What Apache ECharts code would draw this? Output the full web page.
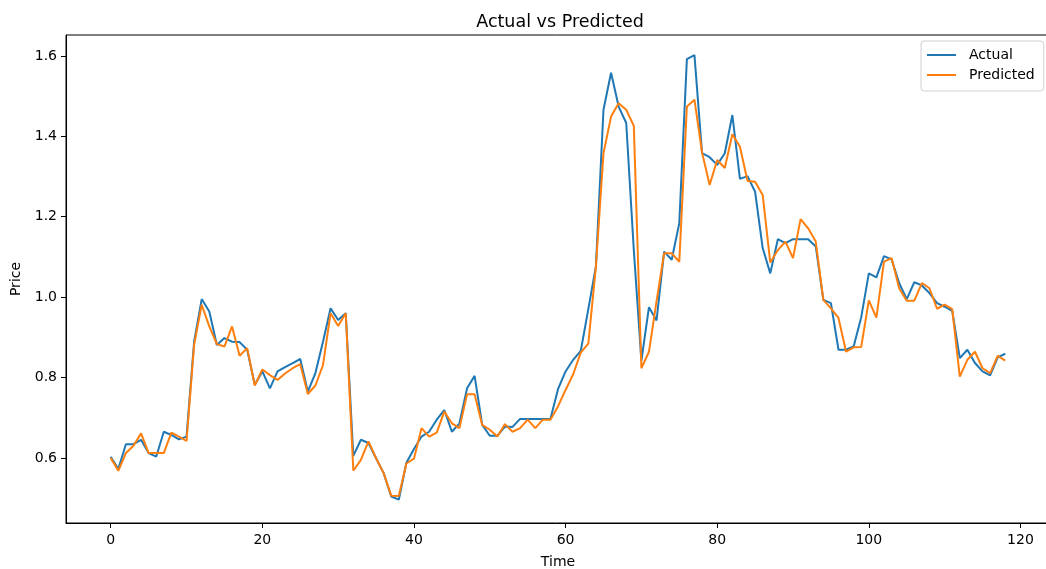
<!DOCTYPE html>
<html>
<head>
<meta charset="utf-8">
<title>Actual vs Predicted</title>
<script src="https://cdn.jsdelivr.net/npm/echarts@6/dist/echarts.min.js"></script>
<style>
  html, body { margin: 0; padding: 0; background: #fff; }
  #chart { width: 1046px; height: 569px; }
</style>
</head>
<body>
<div id="chart"></div>
<script>
// Observed price per time step
const actual = [
  0.603, 0.572, 0.634, 0.634, 0.645, 0.612, 0.603, 0.665, 0.657, 0.646,
  0.653, 0.889, 0.995, 0.964, 0.881, 0.898, 0.889, 0.888, 0.869, 0.782,
  0.815, 0.773, 0.815, 0.826, 0.836, 0.846, 0.765, 0.811, 0.889, 0.972,
  0.943, 0.960, 0.605, 0.645, 0.637, 0.599, 0.562, 0.504, 0.496, 0.588,
  0.622, 0.653, 0.665, 0.695, 0.719, 0.665, 0.686, 0.773, 0.804, 0.682,
  0.655, 0.655, 0.678, 0.677, 0.697, 0.697, 0.697, 0.697, 0.697, 0.771,
  0.815, 0.844, 0.866, 0.970, 1.076, 1.466, 1.558, 1.474, 1.433, 1.117,
  0.842, 0.975, 0.942, 1.113, 1.093, 1.184, 1.592, 1.602, 1.358, 1.348,
  1.329, 1.358, 1.453, 1.294, 1.301, 1.262, 1.122, 1.059, 1.144, 1.134,
  1.144, 1.144, 1.144, 1.126, 0.993, 0.985, 0.869, 0.869, 0.877, 0.950,
  1.059, 1.049, 1.102, 1.094, 1.035, 0.995, 1.037, 1.029, 1.010, 0.985,
  0.976, 0.966, 0.848, 0.869, 0.836, 0.815, 0.805, 0.850, 0.859
];

// Model output per time step
const predicted = [
  0.600, 0.568, 0.612, 0.630, 0.661, 0.612, 0.612, 0.612, 0.663, 0.653,
  0.642, 0.881, 0.981, 0.927, 0.883, 0.877, 0.927, 0.854, 0.873, 0.780,
  0.820, 0.806, 0.794, 0.810, 0.823, 0.833, 0.759, 0.780, 0.831, 0.960,
  0.928, 0.960, 0.568, 0.595, 0.641, 0.599, 0.562, 0.506, 0.505, 0.586,
  0.598, 0.674, 0.653, 0.663, 0.715, 0.686, 0.674, 0.758, 0.758, 0.682,
  0.670, 0.653, 0.684, 0.665, 0.674, 0.695, 0.674, 0.695, 0.695, 0.728,
  0.769, 0.808, 0.862, 0.884, 1.076, 1.358, 1.449, 1.482, 1.466, 1.426,
  0.823, 0.864, 0.990, 1.109, 1.109, 1.088, 1.474, 1.491, 1.360, 1.279,
  1.341, 1.321, 1.405, 1.374, 1.289, 1.287, 1.254, 1.086, 1.117, 1.138,
  1.097, 1.194, 1.171, 1.138, 0.993, 0.972, 0.948, 0.864, 0.875, 0.876,
  0.992, 0.949, 1.088, 1.097, 1.022, 0.991, 0.991, 1.035, 1.022, 0.971,
  0.981, 0.970, 0.802, 0.844, 0.864, 0.823, 0.811, 0.854, 0.842
];

// Axis ticks
const xTicks = [0, 20, 40, 60, 80, 100, 120];
const yTicks = [0.6, 0.8, 1.0, 1.2, 1.4, 1.6];

const FONT = 'DejaVu Sans';
const INK = '#000';

const toPairs = arr => arr.map((v, i) => [i, v]);

const chart = echarts.init(document.getElementById('chart'), null, { renderer: 'canvas' });

chart.setOption({
  animation: false,
  backgroundColor: '#fff',
  textStyle: { fontFamily: FONT },
  title: {
    text: 'Actual vs Predicted',
    left: 555,
    top: 8,
    textAlign: 'center',
    textStyle: { fontFamily: FONT, fontSize: 17.5, fontWeight: 'normal', color: INK }
  },
  legend: {
    orient: 'vertical',
    left: 921,
    top: 41,
    padding: [7, 9, 9, 5],
    itemWidth: 29,
    itemHeight: 14,
    itemGap: 6,
    backgroundColor: 'rgba(255,255,255,0.8)',
    borderColor: '#d0d0d0',
    borderWidth: 1,
    borderRadius: 3,
    itemStyle: { opacity: 0 },
    lineStyle: { width: 2 },
    textStyle: { fontFamily: FONT, fontSize: 14, color: INK, padding: [0, 0, 0, 8] },
    data: ['Actual', 'Predicted']
  },
  grid: {
    left: 66,
    top: 35,
    width: 984,
    height: 488,
    outerBoundsMode: 'none',
    show: true,
    borderColor: INK,
    borderWidth: 1,
    backgroundColor: 'transparent'
  },
  xAxis: {
    type: 'value',
    min: -5.9,
    max: 123.9,
    name: 'Time',
    nameLocation: 'middle',
    nameGap: 32,
    nameTextStyle: { fontFamily: FONT, fontSize: 14, color: INK },
    splitLine: { show: false },
    axisLine: { show: true, onZero: false, lineStyle: { color: INK, width: 1 } },
    axisTick: { show: true, length: 5, customValues: xTicks, lineStyle: { color: INK, width: 1 } },
    axisLabel: {
      customValues: xTicks,
      margin: 10,
      fontFamily: FONT,
      fontSize: 14,
      color: INK,
      formatter: v => String(Math.round(v))
    }
  },
  yAxis: {
    type: 'value',
    min: 0.438,
    max: 1.652,
    name: 'Price',
    nameLocation: 'middle',
    nameGap: 39,
    nameTextStyle: { fontFamily: FONT, fontSize: 14, color: INK },
    splitLine: { show: false },
    axisLine: { show: true, onZero: false, lineStyle: { color: INK, width: 1 } },
    axisTick: { show: true, length: 5, customValues: yTicks, lineStyle: { color: INK, width: 1 } },
    axisLabel: {
      customValues: yTicks,
      margin: 9,
      fontFamily: FONT,
      fontSize: 14,
      color: INK,
      formatter: v => v.toFixed(1)
    }
  },
  series: [
    {
      name: 'Actual',
      type: 'line',
      data: toPairs(actual),
      symbol: 'none',
      smooth: false,
      color: '#1f77b4',
      lineStyle: { color: '#1f77b4', width: 2 },
      z: 2
    },
    {
      name: 'Predicted',
      type: 'line',
      data: toPairs(predicted),
      symbol: 'none',
      smooth: false,
      color: '#ff7f0e',
      lineStyle: { color: '#ff7f0e', width: 2 },
      z: 3
    }
  ]
});
</script>
</body>
</html>
